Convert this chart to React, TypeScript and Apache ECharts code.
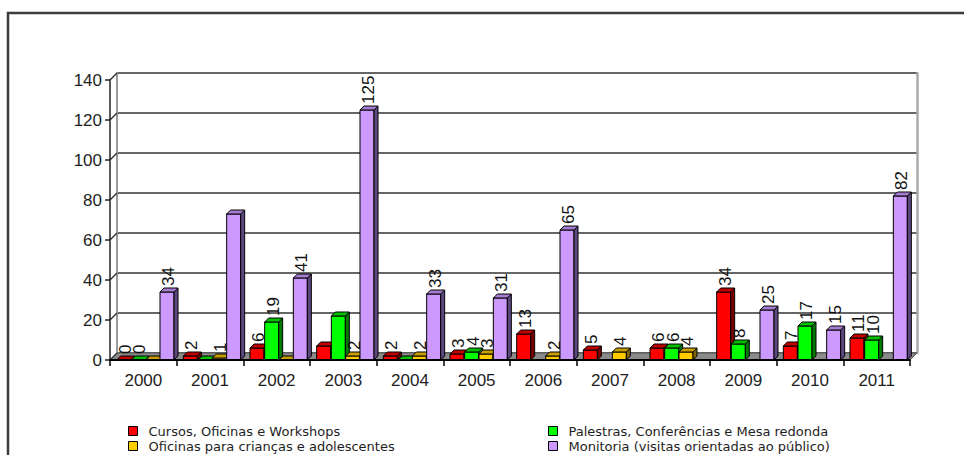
import React, { useEffect, useRef } from "react";
import * as echarts from "echarts";

// ---------- data ----------
const years = ["2000", "2001", "2002", "2003", "2004", "2005", "2006", "2007", "2008", "2009", "2010", "2011"];
const seriesNames = [
  "Cursos, Oficinas e Workshops",
  "Palestras, Conferências e Mesa redonda",
  "Oficinas para crianças e adolescentes",
  "Monitoria (visitas orientadas ao público)",
];
const cursos: (number | null)[] = [0, 2, 6, 7, 2, 3, 13, 5, 6, 34, 7, 11];
const palestras: (number | null)[] = [0, 0, 19, 22, 0, 4, null, null, 6, 8, 17, 10];
const oficinas: (number | null)[] = [0, 1, 0, 2, 2, 3, 2, 4, 4, null, null, null];
const monitoria: (number | null)[] = [34, 73, 41, 125, 33, 31, 65, null, null, 25, 15, 82];
// value labels that the original does not print
const hiddenCursos = ["2003"];
const hiddenPalestras = ["2001", "2003", "2004"];
const hiddenOficinas = ["2000", "2002"];
const hiddenMonitoria = ["2001"];
const yMin = 0;
const yMax = 140;
const yInterval = 20;

// ---------- style ----------
const FRONT = ["#FF0000", "#00FF00", "#FFCC00", "#CC99FF"];
const TOP = ["#C00000", "#00C000", "#C89E00", "#A57CD0"];
const SIDE = ["#7A0000", "#007A00", "#806600", "#5E4780"];
const OFFSETS = [0.1, 0.32, 0.535, 0.75];
const WIDTH_F = 0.21;
const DEPTH = 4;
const WALL = 7;
const GRID_LEFT = 110;
const GRID_TOP = 80;
const GRID_W = 800;
const GRID_H = 280;
const FONT = '"Liberation Sans", Arial, sans-serif';

export default function App() {
  const ref = useRef<HTMLDivElement>(null);
  useEffect(() => {
    if (!ref.current) return;
    const chart = echarts.init(ref.current, null, { renderer: "svg" });
    const all = [cursos, palestras, oficinas, monitoria];
    const hidden = [hiddenCursos, hiddenPalestras, hiddenOficinas, hiddenMonitoria];

    const makeSeries = (k: number) => ({
      type: "custom",
      name: seriesNames[k],
      coordinateSystem: "cartesian2d",
      xAxisIndex: 0,
      yAxisIndex: 0,
      z: 5,
      itemStyle: { color: FRONT[k] },
      encode: { x: 0, y: 1 },
      data: all[k]
        .map((v, i) => (v == null ? null : [i, v, hidden[k].includes(years[i]) ? 0 : 1]))
        .filter((d) => d !== null),
      renderItem: (params: any, api: any) => {
        const cat = api.value(0);
        const v = api.value(1);
        const show = api.value(2);
        const band = api.size([1, 0])[0];
        const base = api.coord([cat, 0]);
        const top = api.coord([cat, v]);
        const w = band * WIDTH_F;
        const x0 = base[0] - band / 2 + band * OFFSETS[k];
        const y0 = base[1];
        const y1 = top[1];
        const d = DEPTH;
        const stroke = { stroke: "#000", lineWidth: 1 };
        const children: any[] = [
          {
            type: "polygon",
            shape: { points: [[x0 + w, y1], [x0 + w + d, y1 - d], [x0 + w + d, y0 - d], [x0 + w, y0]] },
            style: { fill: SIDE[k], ...stroke },
          },
          {
            type: "polygon",
            shape: { points: [[x0, y1], [x0 + d, y1 - d], [x0 + w + d, y1 - d], [x0 + w, y1]] },
            style: { fill: TOP[k], ...stroke },
          },
        ];
        if (y0 - y1 > 0.5) {
          children.unshift({
            type: "rect",
            shape: { x: x0, y: y1, width: w, height: y0 - y1 },
            style: { fill: FRONT[k], ...stroke },
          });
        }
        if (show) {
          children.push({
            type: "text",
            x: x0 + w / 2 + 1.5,
            y: y1 - d - 2,
            rotation: Math.PI / 2,
            style: {
              text: String(v),
              fill: "#111",
              fontSize: 17,
              fontFamily: FONT,
              align: "left",
              verticalAlign: "middle",
            },
          });
        }
        return { type: "group", children };
      },
    });

    const legendCommon = {
      orient: "vertical",
      icon: "rect",
      itemWidth: 9,
      itemHeight: 9,
      itemGap: 1,
      padding: 0,
      height: 60,
      width: 400,
      selectedMode: false,
      itemStyle: { borderColor: "#000", borderWidth: 1 },
      textStyle: {
        fontSize: 13,
        fontFamily: '"DejaVu Sans", sans-serif',
        color: "#1e1e1e",
        lineHeight: 14,
        padding: [0, 0, 0, 6],
      },
    };

    const option: any = {
      animation: false,
      backgroundColor: "#fff",
      grid: [
        { left: GRID_LEFT, top: GRID_TOP, width: GRID_W, height: GRID_H },
        { left: GRID_LEFT + WALL, top: GRID_TOP - WALL, width: GRID_W, height: GRID_H },
      ],
      xAxis: [
        {
          type: "category",
          gridIndex: 0,
          data: years,
          z: 6,
          axisLine: { show: true, lineStyle: { color: "#000", width: 2 } },
          axisTick: { show: true, length: 6, lineStyle: { color: "#000", width: 1.5 } },
          axisLabel: { fontSize: 17, fontFamily: FONT, color: "#1e1e1e", margin: 12 },
          splitLine: { show: false },
        },
        {
          type: "category",
          gridIndex: 1,
          data: years,
          show: false,
        },
      ],
      yAxis: [
        {
          type: "value",
          gridIndex: 0,
          min: yMin,
          max: yMax,
          interval: yInterval,
          z: 6,
          axisLine: { show: true, lineStyle: { color: "#222", width: 1.5 } },
          axisTick: { show: true, length: 5, lineStyle: { color: "#222", width: 1.5 } },
          axisLabel: { fontSize: 17, fontFamily: FONT, color: "#1e1e1e", margin: 8 },
          splitLine: { show: false },
        },
        {
          type: "value",
          gridIndex: 1,
          min: yMin,
          max: yMax,
          interval: yInterval,
          axisLine: { show: true, lineStyle: { color: "#9a9a9a", width: 2 } },
          axisTick: { show: false },
          axisLabel: { show: false },
          splitLine: { show: true, lineStyle: { color: "#333", width: 1.6 } },
        },
        {
          type: "value",
          gridIndex: 1,
          position: "right",
          min: yMin,
          max: yMax,
          interval: yInterval,
          axisLine: { show: true, lineStyle: { color: "#aaa", width: 2.5 } },
          axisTick: { show: false },
          axisLabel: { show: false },
          splitLine: { show: false },
        },
      ],
      legend: [
        { ...legendCommon, left: 128, top: 424, data: [seriesNames[0], seriesNames[2]] },
        { ...legendCommon, left: 548, top: 424, data: [seriesNames[1], seriesNames[3]] },
      ],
      series: [0, 1, 2, 3].map(makeSeries),
    };
    chart.setOption(option);

    // decorations derived from the axes: floor slab, wall joints, frame
    const bottomL = chart.convertToPixel({ xAxisIndex: 0, yAxisIndex: 0 }, [0, yMin]) as number[];
    const bottomR = chart.convertToPixel({ xAxisIndex: 0, yAxisIndex: 0 }, [years.length - 1, yMin]) as number[];
    const band = GRID_W / years.length;
    const xl = bottomL[0] - band / 2;
    const xr = bottomR[0] + band / 2;
    const yb = bottomL[1];
    const graphics: any[] = [
      {
        type: "rect",
        shape: { x: 8, y: 13, width: 1200, height: 800 },
        style: { fill: "none", stroke: "#3c3c3c", lineWidth: 2.5 },
        z: 0,
      },
      {
        type: "polygon",
        shape: { points: [[xl, yb], [xr, yb], [xr + WALL, yb - WALL], [xl + WALL, yb - WALL]] },
        style: { fill: "#8a8a8a", stroke: "#555", lineWidth: 1 },
        z: 2,
      },
    ];
    for (let v = yMin; v <= yMax; v += yInterval) {
      const y = chart.convertToPixel({ yAxisIndex: 0 }, v) as number;
      graphics.push({
        type: "line",
        shape: { x1: xl, y1: y, x2: xl + WALL, y2: y - WALL },
        style: { stroke: "#333", lineWidth: 1.5 },
        z: 3,
      });
    }
    chart.setOption({ graphic: graphics });

    return () => chart.dispose();
  }, []);
  return (
    <div
      ref={ref}
      style={{ position: "fixed", left: 0, top: 0, width: 964, height: 455, background: "#fff" }}
    />
  );
}
